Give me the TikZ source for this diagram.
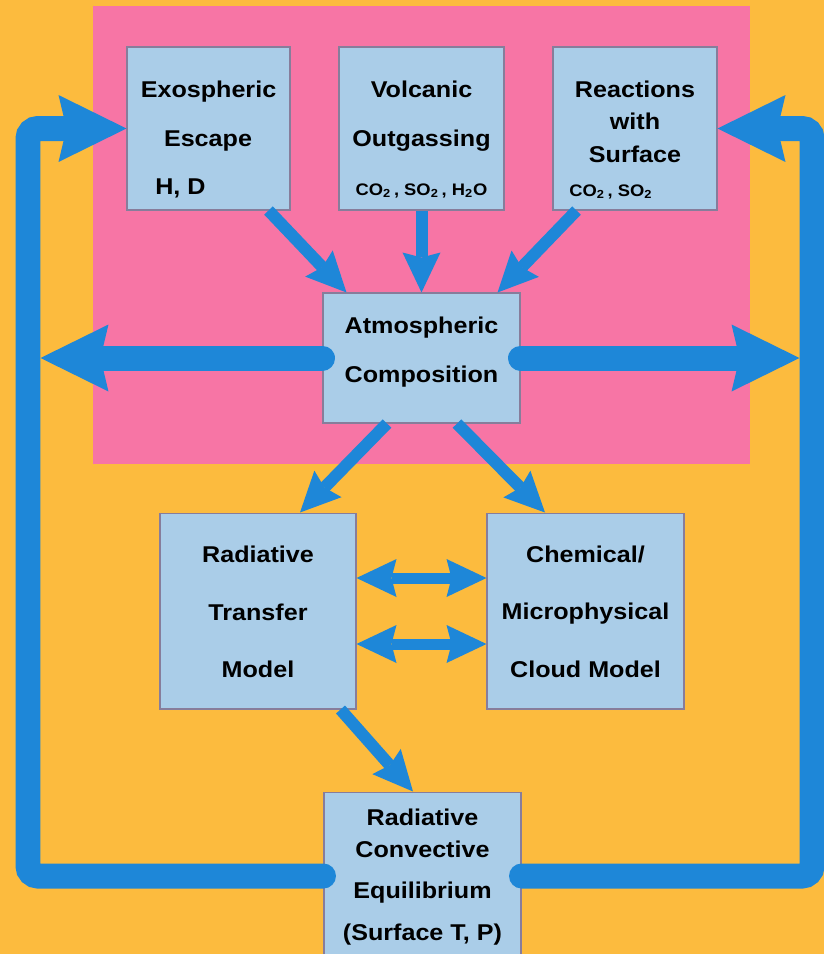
\documentclass[tikz,border=0pt]{standalone}
\usepackage{fontspec}
\setmainfont[FakeStretch=1.1]{Liberation Sans}
\usetikzlibrary{arrows.meta,calc}
\definecolor{bgorange}{RGB}{252,187,62}
\definecolor{corepink}{RGB}{247,117,165}
\definecolor{boxblue}{RGB}{170,205,232}
\definecolor{flowblue}{RGB}{30,135,216}
\definecolor{boxline}{RGB}{135,125,155}
\tikzset{
  smalltip/.tip={Stealth[length=0.8cm,width=0.76cm,inset=0.1cm,line width=0pt]},
  bigtip/.tip={Stealth[length=1.36cm,width=1.34cm,inset=0.16cm,line width=0pt]}
}

\begin{document}
\begin{tikzpicture}[x=0.02cm,y=-0.02cm,
    block/.style={draw=boxline,line width=0.6pt,fill=boxblue,inner sep=0pt},
    lbl/.style={font=\fontsize{13}{15}\selectfont\bfseries,inner sep=0pt,anchor=base},
    gas/.style={font=\fontsize{9.5}{12}\selectfont\bfseries,inner sep=0pt,anchor=base},
    thin flow/.style={draw=flowblue,line width=0.24cm,-{smalltip}},
    thin both/.style={draw=flowblue,line width=0.22cm,{smalltip}-{smalltip}},
    thick flow/.style={draw=flowblue,line width=0.5cm,line cap=round,rounded corners=0.2cm,-{bigtip}}]
    \useasboundingbox (0,0) rectangle (824,954);
    \clip (0,0) rectangle (824,954);
    \fill[bgorange] (0,0) rectangle (824,954);
    % source region
    \fill[corepink] (93,6) rectangle (750,464);
    % boxes
    \node[block,minimum width=3.26cm,minimum height=3.26cm] (exo) at (208.5,128.5) {};
    \node[block,minimum width=3.3cm,minimum height=3.26cm] (volc) at (421.5,128.5) {};
    \node[block,minimum width=3.28cm,minimum height=3.26cm] (react) at (635,128.5) {};
    \node[block,minimum width=3.94cm,minimum height=2.6cm] (atmo) at (421.5,358) {};
    \node[block,minimum width=3.92cm,minimum height=3.92cm] (rtm) at (258,611) {};
    \node[block,minimum width=3.94cm,minimum height=3.92cm] (chem) at (585.5,611) {};
    \node[block,minimum width=3.94cm,minimum height=3.36cm] (rce) at (422.5,876) {};
    % sources feeding the atmosphere
    \draw[thin flow] ($(exo.south east)+(-22,0)$) -- ($(atmo.north west)+(24,0)$);
    \draw[thin flow] (volc.south) -- (atmo.north);
    \draw[thin flow] ($(react.south west)+(24,0)$) -- ($(atmo.north east)+(-23,0)$);
    % atmosphere to the models
    \draw[thin flow] ($(atmo.south)+(-34.5,0)$) -- ($(rtm.north)+(42,0)$);
    \draw[thin flow] ($(atmo.south)+(35.5,0)$) -- ($(chem.north)+(-40.5,0)$);
    \draw[thin both] ($(rtm.east)+(0,-33)$) -- ($(chem.west)+(0,-33)$);
    \draw[thin both] ($(rtm.east)+(0,33)$) -- ($(chem.west)+(0,33)$);
    \draw[thin flow] ($(rtm.south east)+(-16,0)$) -- ($(rce.north)+(-9.5,0)$);
    % feedback loops
    \coordinate (nwTurn) at (28,128.5);
    \coordinate (neTurn) at (812,128.5);
    \coordinate (wStop) at (40.5,358);
    \coordinate (eStop) at (799.5,358);
    \draw[thick flow] (rce.west) -| (nwTurn) -- (exo.west);
    \draw[thick flow] (rce.east) -| (neTurn) -- (react.east);
    \draw[thick flow] (atmo.west) -- (wStop);
    \draw[thick flow] (atmo.east) -- (eStop);
    % labels
    \node[lbl] (exoA) at (208.5,97) {Exospheric};
    \node[lbl] (exoB) at (208,146) {Escape};
    \node[lbl,anchor=base west] (exoC) at (155,194) {H, D};
    \node[lbl] (volcA) at (421.5,97) {Volcanic};
    \node[lbl] (volcB) at (421.5,146) {Outgassing};
    \node[gas] (volcC) at (421.5,195) {CO\textsubscript{2}\,, SO\textsubscript{2}\,, H\textsubscript{2}O};
    \node[lbl] (reactA) at (635,97) {Reactions};
    \node[lbl] (reactB) at (635,129) {with};
    \node[lbl] (reactC) at (635,162) {Surface};
    \node[gas,anchor=base west] (reactD) at (569,196) {CO\textsubscript{2}\,, SO\textsubscript{2}};
    \node[lbl] (atmoA) at (421.5,333) {Atmospheric};
    \node[lbl] (atmoB) at (421.5,382) {Composition};
    \node[lbl] (rtmA) at (258,562) {Radiative};
    \node[lbl] (rtmB) at (258,620) {Transfer};
    \node[lbl] (rtmC) at (258,677) {Model};
    \node[lbl] (chemA) at (585.5,562) {Chemical/};
    \node[lbl] (chemB) at (585.5,619) {Microphysical};
    \node[lbl] (chemC) at (585.5,677) {Cloud Model};
    \node[lbl] (rceA) at (422.5,825) {Radiative};
    \node[lbl] (rceB) at (422.5,857) {Convective};
    \node[lbl] (rceC) at (422.5,898) {Equilibrium};
    \node[lbl] (rceD) at (422.5,940) {(Surface T, P)};
\end{tikzpicture}
\end{document}
